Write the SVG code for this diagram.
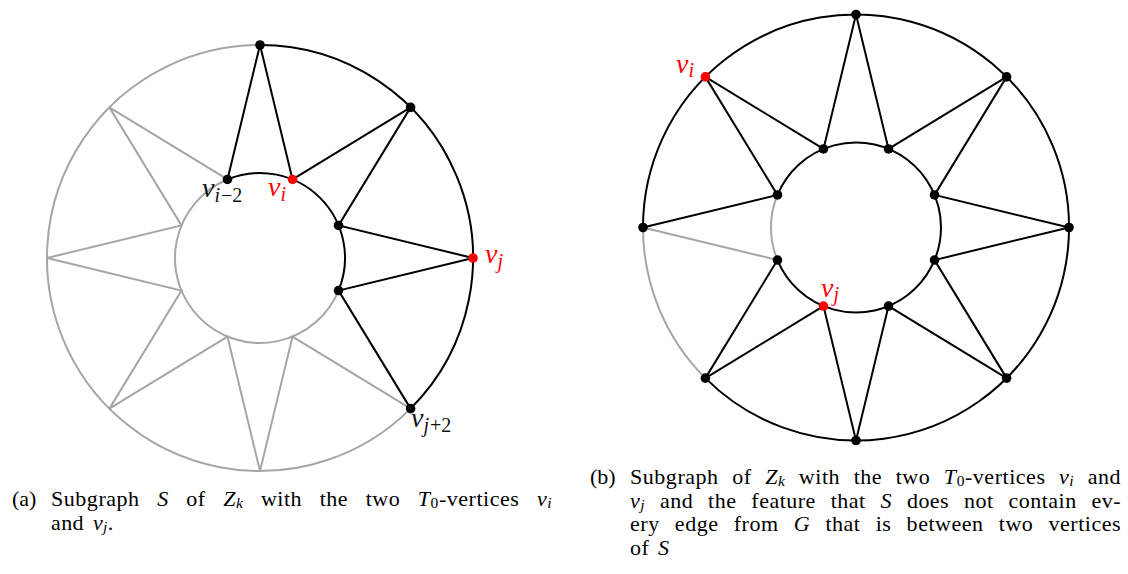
<svg xmlns="http://www.w3.org/2000/svg" width="1128" height="574" viewBox="0 0 1128 574">
<style>
.g{fill:none;stroke:#a6a6a6;stroke-width:2}
.k{fill:none;stroke:#000;stroke-width:2}
.dk{fill:#000}
.dr{fill:#ff0000}
.lab{font-family:"Liberation Serif",serif;font-size:28px;font-style:italic;fill:#111}
.ls{font-size:20px}
.up{font-style:normal}
.red{fill:#ff0000}
.cap{font-family:"Liberation Serif",serif;font-size:22px;fill:#000}
.j{letter-spacing:0.4px}
.mi{font-style:italic}
.cs{font-size:15.5px}
</style>
<rect width="1128" height="574" fill="#fff"/>
<g id="connectors">
<path class="g" d="M410.61 408.61 A213 213 0 1 1 260 45"/>
<path class="g" d="M338.53 290.53 A85 85 0 1 1 227.47 179.47"/>
<path class="g" d="M410.61 408.61 L292.53 336.53 L260 471 L227.47 336.53 L109.39 408.61 L181.47 290.53 L47 258 L181.47 225.47 L109.39 107.39 L227.47 179.47"/>
<path class="k" d="M260 45 A213 213 0 0 1 410.61 408.61"/>
<path class="k" d="M227.47 179.47 A85 85 0 0 1 338.53 290.53"/>
<path class="k" d="M227.47 179.47 L260 45 L292.53 179.47 L410.61 107.39 L338.53 225.47 L473 258 L338.53 290.53 L410.61 408.61"/>
<path class="g" d="M643 227.5 A213 213 0 0 0 705.39 378.11"/>
<path class="g" d="M777.47 194.97 A85 85 0 0 0 777.47 260.03"/>
<path class="g" d="M643 227.5 L777.47 260.03"/>
<path class="k" d="M705.39 378.11 A213 213 0 1 0 643 227.5"/>
<path class="k" d="M777.47 260.03 A85 85 0 1 0 777.47 194.97"/>
<path class="k" d="M643 227.5 L777.47 194.97 L705.39 76.89 L823.47 148.97 L856 14.5 L888.53 148.97 L1006.61 76.89 L934.53 194.97 L1069 227.5 L934.53 260.03 L1006.61 378.11 L888.53 306.03 L856 440.5 L823.47 306.03 L705.39 378.11 L777.47 260.03"/>
</g>
<g id="left-nodes">
<g id="L-o90"><circle class="dk" cx="260" cy="45" r="4.8"/></g>
<g id="L-o45"><circle class="dk" cx="410.61" cy="107.39" r="4.8"/></g>
<g id="L-vj"><circle class="dr" cx="473" cy="258" r="4.8"/><text class="lab red" x="485" y="263">v<tspan class="ls" dy="5">j</tspan></text></g>
<g id="L-vj2"><circle class="dk" cx="410.61" cy="408.61" r="4.8"/><text class="lab" x="411" y="427">v<tspan class="ls" dy="5">j</tspan><tspan class="ls up" dx="1">+2</tspan></text></g>
<g id="L-vi2"><circle class="dk" cx="227.47" cy="179.47" r="4.8"/><text class="lab" x="202" y="197">v<tspan class="ls" dy="5">i</tspan><tspan class="ls up" dx="1">−2</tspan></text></g>
<g id="L-vi"><circle class="dr" cx="292.53" cy="179.47" r="4.8"/><text class="lab red" x="268" y="196">v<tspan class="ls" dy="5">i</tspan></text></g>
<g id="L-i22"><circle class="dk" cx="338.53" cy="225.47" r="4.8"/></g>
<g id="L-im22"><circle class="dk" cx="338.53" cy="290.53" r="4.8"/></g>
</g>
<g id="right-nodes">
<g id="R-o90"><circle class="dk" cx="856" cy="14.5" r="4.8"/></g>
<g id="R-o45"><circle class="dk" cx="1006.61" cy="76.89" r="4.8"/></g>
<g id="R-o0"><circle class="dk" cx="1069" cy="227.5" r="4.8"/></g>
<g id="R-om45"><circle class="dk" cx="1006.61" cy="378.11" r="4.8"/></g>
<g id="R-om90"><circle class="dk" cx="856" cy="440.5" r="4.8"/></g>
<g id="R-om135"><circle class="dk" cx="705.39" cy="378.11" r="4.8"/></g>
<g id="R-o180"><circle class="dk" cx="643" cy="227.5" r="4.8"/></g>
<g id="R-vi"><circle class="dr" cx="705.39" cy="76.89" r="4.8"/><text class="lab red" x="676" y="73">v<tspan class="ls" dy="4">i</tspan></text></g>
<g id="R-i67"><circle class="dk" cx="888.53" cy="148.97" r="4.8"/></g>
<g id="R-i22"><circle class="dk" cx="934.53" cy="194.97" r="4.8"/></g>
<g id="R-im22"><circle class="dk" cx="934.53" cy="260.03" r="4.8"/></g>
<g id="R-im67"><circle class="dk" cx="888.53" cy="306.03" r="4.8"/></g>
<g id="R-vj"><circle class="dr" cx="823.47" cy="306.03" r="4.8"/><text class="lab red" x="821" y="297">v<tspan class="ls" dy="4">j</tspan></text></g>
<g id="R-im157"><circle class="dk" cx="777.47" cy="260.03" r="4.8"/></g>
<g id="R-i157"><circle class="dk" cx="777.47" cy="194.97" r="4.8"/></g>
<g id="R-i112"><circle class="dk" cx="823.47" cy="148.97" r="4.8"/></g>
</g>
<g id="captions">
<text class="cap" x="12" y="506">(a)</text>
<text class="cap j" x="51" y="506" word-spacing="11.5" textLength="501" lengthAdjust="spacing">Subgraph <tspan class="mi">S</tspan> of <tspan class="mi">Z</tspan><tspan class="mi cs" dy="2">k</tspan><tspan dy="-2"> with the two </tspan><tspan class="mi">T</tspan><tspan class="cs" dy="2">0</tspan><tspan dy="-2">-vertices </tspan><tspan class="mi">v</tspan><tspan class="mi cs" dy="2">i</tspan></text>
<text class="cap j" x="51" y="529.5" word-spacing="3">and <tspan class="mi">v</tspan><tspan class="mi cs" dy="2">j</tspan><tspan dy="-2">.</tspan></text>
<text class="cap" x="590" y="484">(b)</text>
<text class="cap j" x="630" y="484" word-spacing="7.5" textLength="491" lengthAdjust="spacing">Subgraph of <tspan class="mi">Z</tspan><tspan class="mi cs" dy="2">k</tspan><tspan dy="-2"> with the two </tspan><tspan class="mi">T</tspan><tspan class="cs" dy="2">0</tspan><tspan dy="-2">-vertices </tspan><tspan class="mi">v</tspan><tspan class="mi cs" dy="2">i</tspan><tspan dy="-2"> and</tspan></text>
<text class="cap j" x="630" y="507.5" word-spacing="9" textLength="491" lengthAdjust="spacing"><tspan class="mi">v</tspan><tspan class="mi cs" dy="2">j</tspan><tspan dy="-2"> and the feature that </tspan><tspan class="mi">S</tspan> does not contain ev-</text>
<text class="cap j" x="630" y="531" word-spacing="9.2" textLength="491" lengthAdjust="spacing">ery edge from <tspan class="mi">G</tspan> that is between two vertices</text>
<text class="cap j" x="630" y="554.5" word-spacing="3">of <tspan class="mi">S</tspan></text>
</g>
</svg>
